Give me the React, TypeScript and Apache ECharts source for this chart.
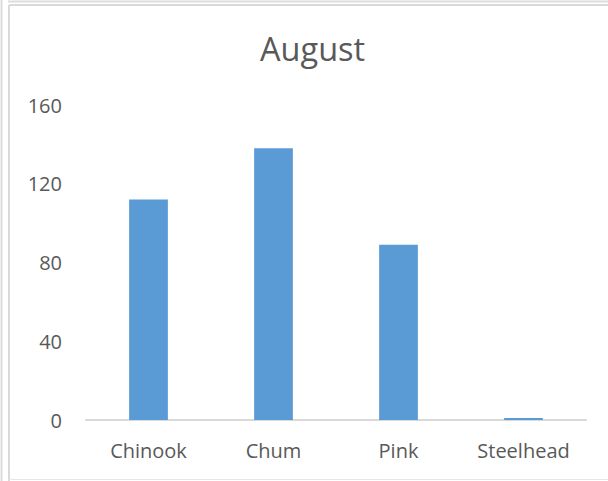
import React, { useEffect, useRef } from "react";
import * as echarts from "echarts";

const categories = ["Chinook", "Chum", "Pink", "Steelhead"];
const values = [112, 138, 89, 1];
const yTicks = { min: 0, max: 160, interval: 40 };
const title = "August";

export default function App() {
  const ref = useRef<HTMLDivElement>(null);
  useEffect(() => {
    if (!ref.current) return;
    const chart = echarts.init(ref.current, null, { renderer: "svg" });
    const font = "'Open Sans', 'Noto Sans', sans-serif";
    chart.setOption({
      animation: false,
      backgroundColor: "#ffffff",
      title: {
        text: title,
        left: 255,
        top: 27,
        textStyle: { fontFamily: font, fontSize: 32.5, fontWeight: "normal", color: "#595959" },
      },
      grid: { left: 86, right: 22, top: 105, bottom: 61, containLabel: false },
      xAxis: {
        type: "category",
        data: categories,
        axisLine: { show: true, lineStyle: { color: "#d9d9d9", width: 2 } },
        axisTick: { show: false },
        axisLabel: { fontFamily: font, fontSize: 20, color: "#595959", margin: 20 },
      },
      yAxis: {
        type: "value",
        min: yTicks.min,
        max: yTicks.max,
        interval: yTicks.interval,
        axisLine: { show: false },
        axisTick: { show: false },
        splitLine: { show: false },
        axisLabel: { fontFamily: font, fontSize: 20, color: "#595959", margin: 24 },
      },
      series: [
        {
          type: "bar",
          data: values,
          barWidth: "31%",
          itemStyle: { color: "#5b9bd5" },
        },
      ],
      graphic: [
        { type: "line", shape: { x1: 1.5, y1: 0, x2: 1.5, y2: 481 }, style: { stroke: "#dcdcdc", lineWidth: 2 } },
        { type: "line", shape: { x1: 8, y1: 1.5, x2: 608, y2: 1.5 }, style: { stroke: "#dcdcdc", lineWidth: 2 } },
        { type: "line", shape: { x1: 9, y1: 5, x2: 9, y2: 481 }, style: { stroke: "#d9d9d9", lineWidth: 2 } },
        { type: "line", shape: { x1: 9, y1: 5, x2: 608, y2: 5 }, style: { stroke: "#d9d9d9", lineWidth: 2 } },
        { type: "line", shape: { x1: 9, y1: 479.5, x2: 608, y2: 479.5 }, style: { stroke: "#e6e6e6", lineWidth: 1 } },
      ],
    });
    return () => chart.dispose();
  }, []);
  return (
    <div
      ref={ref}
      style={{ position: "fixed", left: 0, top: 0, width: 608, height: 481 }}
    />
  );
}
